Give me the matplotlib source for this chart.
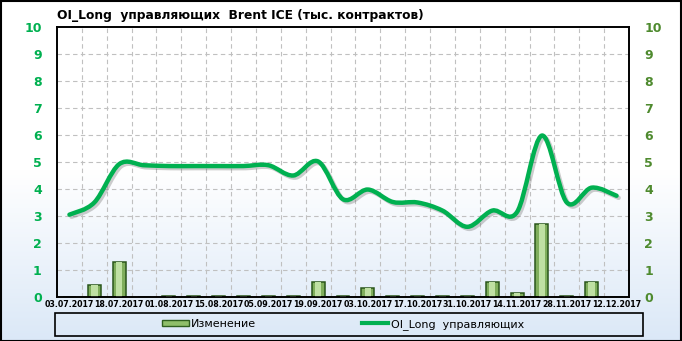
import numpy as np
import matplotlib
matplotlib.use("Agg")
import matplotlib.pyplot as plt
from matplotlib.path import Path
from matplotlib.patches import PathPatch, Rectangle
from matplotlib.lines import Line2D
import matplotlib.patheffects as pe
from matplotlib.colors import LinearSegmentedColormap

title = "OI_Long  управляющих  Brent ICE (тыс. контрактов)"
tick_labels = ["03.07.2017", "", "18.07.2017", "", "01.08.2017", "", "15.08.2017", "",
               "05.09.2017", "", "19.09.2017", "", "03.10.2017", "", "17.10.2017", "",
               "31.10.2017", "", "14.11.2017", "", "28.11.2017", "", "12.12.2017"]
change = [0.0, 0.45, 1.3, 0.0, 0.02, 0.02, 0.02, 0.02, 0.02, 0.02, 0.55, 0.02,
          0.35, 0.02, 0.02, 0.02, 0.02, 0.55, 0.15, 2.7, 0.02, 0.55, 0.0]
oi_long = [3.05, 3.5, 4.92, 4.88, 4.85, 4.85, 4.85, 4.85, 4.88, 4.5, 5.02, 3.62,
           3.98, 3.52, 3.5, 3.2, 2.6, 3.2, 3.15, 5.98, 3.5, 4.05, 3.75]
series_names = ["Изменение", "OI_Long  управляющих"]

W, H = 682, 341
fig = plt.figure(figsize=(W / 100, H / 100), dpi=100)

# background gradient
bg = fig.add_axes([0, 0, 1, 1], zorder=-10)
bg.set_axis_off()
grad = np.linspace(0, 1, 256).reshape(-1, 1)
cmap = LinearSegmentedColormap.from_list("bg", [(0, "#ffffff"), (0.5, "#ffffff"), (1, "#dbe8f7")])
bg.imshow(grad, aspect="auto", cmap=cmap, extent=[0, 1, 0, 1], origin="upper")
bg.set_xlim(0, 1)
bg.set_ylim(0, 1)

ax = fig.add_axes([57 / W, 1 - 297 / H, 572 / W, 270 / H])
ax.set_facecolor("none")
n = len(oi_long)
x = np.arange(n)
ax.set_xlim(-0.5, n - 0.5)
ax.set_ylim(0, 10)

# grid
for gx in np.arange(0.5, n - 0.5, 1):
    ax.axvline(gx, color="#c0c0c0", lw=0.8, ls=(0, (4, 3)), zorder=0)
for gy in range(1, 10):
    ax.axhline(gy, color="#c0c0c0", lw=0.8, ls=(0, (4, 3)), zorder=0)

# bars
ax.bar(x, change, width=0.52, color="#7fae5c", edgecolor="#2a561b", linewidth=1.1, zorder=2)
ax.bar(x, change, width=0.26, color="#bfe0a3", linewidth=0, zorder=3)

# smooth line via Catmull-Rom -> Bezier
pts = np.column_stack([x, oi_long]).astype(float)
verts = [tuple(pts[0])]
codes = [Path.MOVETO]
for i in range(n - 1):
    p0 = pts[max(i - 1, 0)]
    p1 = pts[i]
    p2 = pts[i + 1]
    p3 = pts[min(i + 2, n - 1)]
    c1 = p1 + (p2 - p0) / 6.0
    c2 = p2 - (p3 - p1) / 6.0
    verts += [tuple(c1), tuple(c2), tuple(p2)]
    codes += [Path.CURVE4] * 3
patch = PathPatch(Path(verts, codes), fill=False, edgecolor="#00b050", lw=3.2,
                  capstyle="round", joinstyle="round", zorder=4)
patch.set_path_effects([pe.SimpleLineShadow(offset=(1.5, -1.5), shadow_color="#707070", alpha=0.35),
                        pe.Normal()])
ax.add_patch(patch)

# axes ticks
ax.set_xticks(x)
ax.set_xticklabels(tick_labels, fontsize=5.7, fontweight="bold", color="black")
ax.tick_params(axis="x", length=0, pad=2.5)
ax.set_yticks(range(0, 11))
ax.tick_params(axis="y", length=0, pad=11, labelsize=9, labelcolor="#00b050")
for t in ax.get_yticklabels():
    t.set_fontweight("bold")
ax2 = ax.twinx()
ax2.set_ylim(0, 10)
ax2.set_yticks(range(0, 11))
ax2.tick_params(axis="y", length=0, pad=11, labelsize=9, labelcolor="#4e8a2e")
for t in ax2.get_yticklabels():
    t.set_fontweight("bold")
for a in (ax, ax2):
    for s in a.spines.values():
        s.set_color("black")
        s.set_linewidth(1.2)

fig.text(57 / W, 1 - 15 / H, title, fontsize=8.8, fontweight="bold", ha="left", va="center")

# legend
handles = [Rectangle((0, 0), 1, 1, facecolor="#8fbf6a", edgecolor="#2f5f1f", lw=1.0),
           Line2D([], [], color="#00b050", lw=3)]
fig.legend(handles, series_names, loc="center", bbox_to_anchor=(343 / W, 1 - 324.5 / H),
           ncol=2, frameon=False, fontsize=8, handlelength=2.4, handleheight=0.5,
           handletextpad=0.2, columnspacing=9.5)
fig.patches.append(Rectangle((55 / W, 1 - 336 / H), 588 / W, 23 / H, transform=fig.transFigure,
                             fill=False, edgecolor="black", lw=1.2))
fig.patches.append(Rectangle((0.5 / W, 0.5 / H), 1 - 1.5 / W, 1 - 1.5 / H, transform=fig.transFigure,
                             fill=False, edgecolor="black", lw=1.5))

fig.savefig("out.png", dpi=100)
